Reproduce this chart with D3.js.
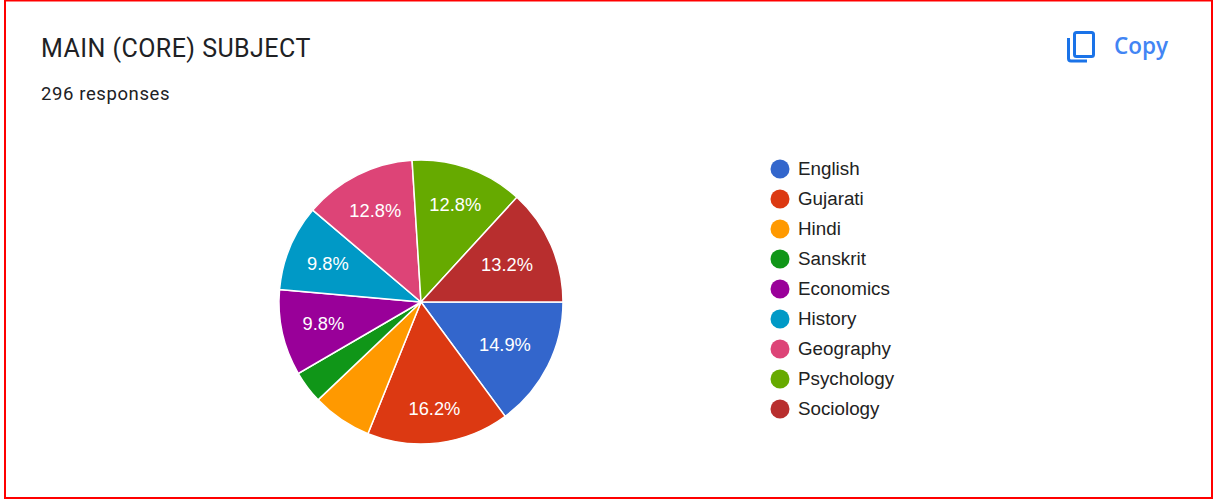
<!DOCTYPE html>
<html>
<head>
<meta charset="utf-8">
<script src="https://cdn.jsdelivr.net/npm/d3@7"></script>
<style>
    html, body { margin: 0; padding: 0; background: #fff; overflow: hidden; }
    text { font-family: "Liberation Sans", Arial, sans-serif; }
</style>
</head>
<body>
<svg id="chart" width="1219" height="500"></svg>
<script>
// percent of responses
const subjects = ["English", "Gujarati", "Hindi", "Sanskrit", "Economics", "History", "Geography", "Psychology", "Sociology"];
const shares = [14.9, 16.2, 6.8, 3.7, 9.8, 9.8, 12.8, 12.8, 13.2];
const colors = ["#3366cc", "#dc3912", "#ff9900", "#109618", "#990099", "#0099c6", "#dd4477", "#66aa00", "#b82e2e"];
const title = "MAIN (CORE) SUBJECT";
const subtitle = "296 responses";

const cx = 421, cy = 302, radius = 142;
const minLabel = 9; // small slices get no label
const legendX = 780, legendTop = 169, legendStep = 30;
// how far out each label sits, the chart pulls them in to fit the slice
const labelRadius = { English: 94, Gujarati: 107, Economics: 100, History: 101, Geography: 102, Psychology: 103, Sociology: 94 };

const svg = d3.select("#chart");

// red outline round the screenshot
svg.append("rect")
    .attr("x", 5).attr("y", 0.5)
    .attr("width", 1207).attr("height", 497.5)
    .attr("fill", "#fff")
    .attr("stroke", "#f00")
    .attr("stroke-width", 2);

svg.append("text")
    .attr("x", 41).attr("y", 57)
    .style("font-family", "Roboto")
    .style("font-size", "25px")
    .style("letter-spacing", "0.45px")
    .attr("fill", "#202124")
    .text(title);

svg.append("text")
    .attr("x", 41).attr("y", 100)
    .style("font-family", "Roboto")
    .style("font-size", "18.5px")
    .style("letter-spacing", "0.6px")
    .attr("fill", "#202124")
    .text(subtitle);

// copy button
const copy = svg.append("g").attr("transform", "translate(1067,31)");
copy.append("rect")
    .attr("x", 7.5).attr("y", 1.5)
    .attr("width", 19).attr("height", 24).attr("rx", 2)
    .attr("fill", "none").attr("stroke", "#1a73e8").attr("stroke-width", 3);
copy.append("path")
    .attr("d", "M1.5 7V27.5Q1.5 30 4 30H20")
    .attr("fill", "none").attr("stroke", "#1a73e8").attr("stroke-width", 3);
svg.append("text")
    .attr("x", 1114).attr("y", 54)
    .style("font-family", "Open Sans")
    .style("font-weight", 600)
    .style("font-size", "22.5px")
    .attr("fill", "#4285f4")
    .text("Copy");

// pie starts at 3 o'clock and runs clockwise
const pie = d3.pie()
    .sort(null)
    .startAngle(Math.PI / 2)
    .endAngle(Math.PI * 2.5);
const arc = d3.arc().innerRadius(0).outerRadius(radius);

const arcs = pie(shares);

const slices = svg.append("g")
    .attr("transform", `translate(${cx},${cy})`);

slices.selectAll("path")
    .data(arcs)
    .enter()
    .append("path")
    .attr("d", arc)
    .attr("fill", (d, i) => colors[i])
    .attr("stroke", "#fff")
    .attr("stroke-width", 1.5);

slices.selectAll("text")
    .data(arcs.filter(d => d.data >= minLabel))
    .enter()
    .append("text")
    .attr("transform", d => {
        const r = labelRadius[subjects[d.index]];
        return "translate(" + d3.arc().innerRadius(r).outerRadius(r).centroid(d) + ")";
    })
    .attr("text-anchor", "middle")
    .attr("dy", "0.36em")
    .attr("fill", "#fff")
    .style("font-size", "18.3px")
    .text(d => d.data.toFixed(1) + "%");

const legend = svg.append("g")
    .selectAll("g")
    .data(subjects)
    .enter()
    .append("g")
    .attr("transform", (d, i) => `translate(${legendX},${legendTop + i * legendStep})`);

legend.append("circle")
    .attr("r", 9.5)
    .attr("fill", (d, i) => colors[i]);

legend.append("text")
    .attr("x", 18)
    .attr("dy", "0.32em")
    .attr("fill", "#222")
    .style("font-size", "18.8px")
    .text(d => d);
</script>
</body>
</html>
